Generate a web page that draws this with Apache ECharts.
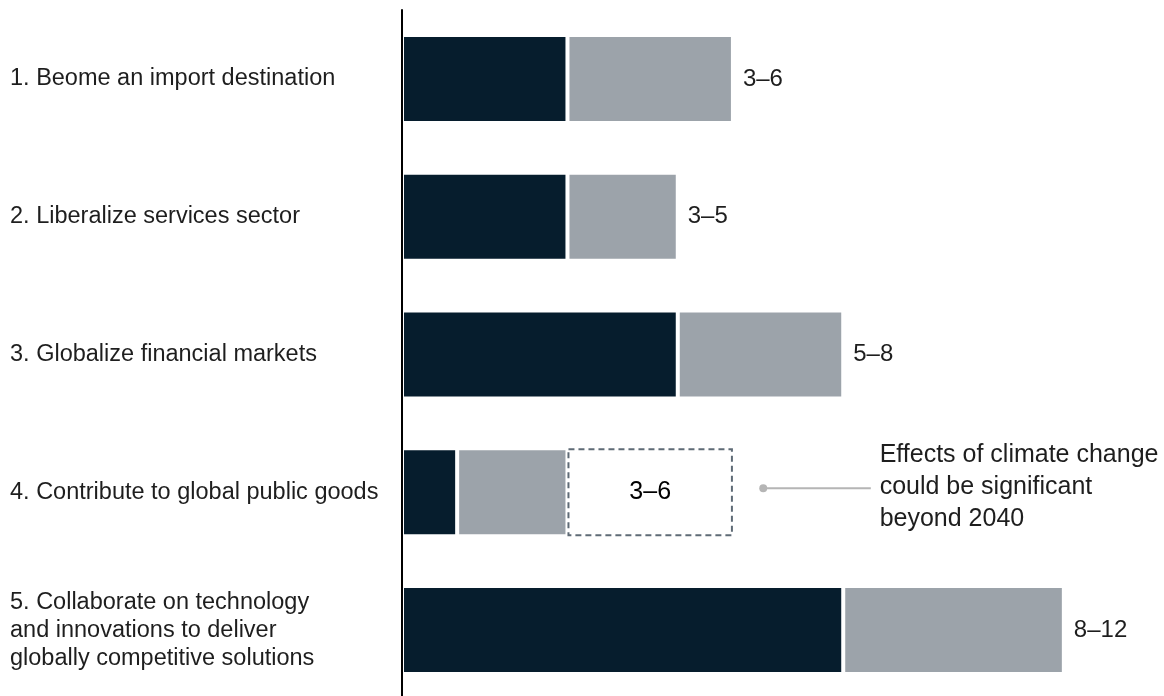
<!DOCTYPE html>
<html>
<head>
<meta charset="utf-8">
<script src="https://cdn.jsdelivr.net/npm/echarts@6/dist/echarts.min.js"></script>
<style>
  html, body { margin: 0; padding: 0; background: #fff; }
  #main { width: 1164px; height: 696px; }
</style>
</head>
<body>
<div id="main"></div>
<script>
// data
var categories = [
  '1. Beome an import destination',
  '2. Liberalize services sector',
  '3. Globalize financial markets',
  '4. Contribute to global public goods',
  '5. Collaborate on technology\nand innovations to deliver\nglobally competitive solutions'
];
var lowValues = [3, 3, 5, 1, 8];
var highValues = [6, 5, 8, 3, 12];
var outlookValues = [null, null, null, 6, null];   // dashed part (row 4 only)
var rangeLabels = ['3–6', '3–5', '5–8', '3–6', '8–12'];
var noteText = 'Effects of climate change\ncould be significant\nbeyond 2040';
var noteRow = 3;
var noteDotX = 6.55, noteLineEndX = 8.5, noteTextX = 8.66;

var DARK = '#061d2d', GRAY = '#9ca3aa', DASH = '#5f6b76', TEXT = '#1e1e1e';
var FONT = '"Liberation Sans", Arial, sans-serif';

var grayValues = highValues.map(function (v, i) { return v - lowValues[i]; });
var dashValues = outlookValues.map(function (v, i) { return v == null ? '-' : v - highValues[i]; });

var chart = echarts.init(document.getElementById('main'));

var option = {
  animation: false,
  grid: { left: 402, right: 45, top: 10, height: 689, outerBoundsMode: 'none' },
  xAxis: { type: 'value', min: 0, max: 13, show: false },
  yAxis: {
    type: 'category',
    inverse: true,
    z: 5,
    data: categories,
    axisTick: { show: false },
    axisLine: { show: true, lineStyle: { color: '#000', width: 2 } },
    axisLabel: {
      align: 'left',
      margin: 392,
      color: TEXT,
      fontFamily: FONT,
      fontSize: 23.5,
      lineHeight: 28,
      padding: [4, 0, 0, 0]
    }
  },
  series: [
    {
      name: 'low', type: 'bar', stack: 'r', barWidth: 88,
      itemStyle: { color: DARK, borderColor: '#fff', borderWidth: 2 },
      data: lowValues
    },
    {
      name: 'range', type: 'bar', stack: 'r',
      itemStyle: { color: GRAY, borderColor: '#fff', borderWidth: 2 },
      label: {
        show: true, position: 'right', distance: 10,
        color: TEXT, fontFamily: FONT, fontSize: 24,
        formatter: function (p) {
          return outlookValues[p.dataIndex] == null ? rangeLabels[p.dataIndex] : '';
        }
      },
      data: grayValues
    },
    {
      name: 'outlook', type: 'bar', stack: 'r', barWidth: 88,
      itemStyle: { color: '#fff', borderColor: DASH, borderWidth: 2, borderType: [6, 4] },
      label: {
        show: true, position: 'inside',
        color: '#000', fontFamily: FONT, fontSize: 25,
        formatter: function (p) { return rangeLabels[p.dataIndex]; }
      },
      data: dashValues
    }
  ]
};
chart.setOption(option);

// callout placed through the grid scales
var dot = chart.convertToPixel({ gridIndex: 0 }, [noteDotX, noteRow]);
var lineEnd = chart.convertToPixel({ gridIndex: 0 }, [noteLineEndX, noteRow]);
var txt = chart.convertToPixel({ gridIndex: 0 }, [noteTextX, noteRow]);
chart.setOption({
  graphic: [
    { type: 'line', shape: { x1: dot[0], y1: dot[1] - 4, x2: lineEnd[0], y2: lineEnd[1] - 4 },
      style: { stroke: '#b5b5b5', lineWidth: 2 } },
    { type: 'circle', shape: { cx: dot[0], cy: dot[1] - 4, r: 4 }, style: { fill: '#b5b5b5' } },
    { type: 'text', x: txt[0], y: txt[1] - 5,
      style: { text: noteText, fill: TEXT, font: '25px ' + FONT, lineHeight: 32, verticalAlign: 'middle' } }
  ]
});
</script>
</body>
</html>
